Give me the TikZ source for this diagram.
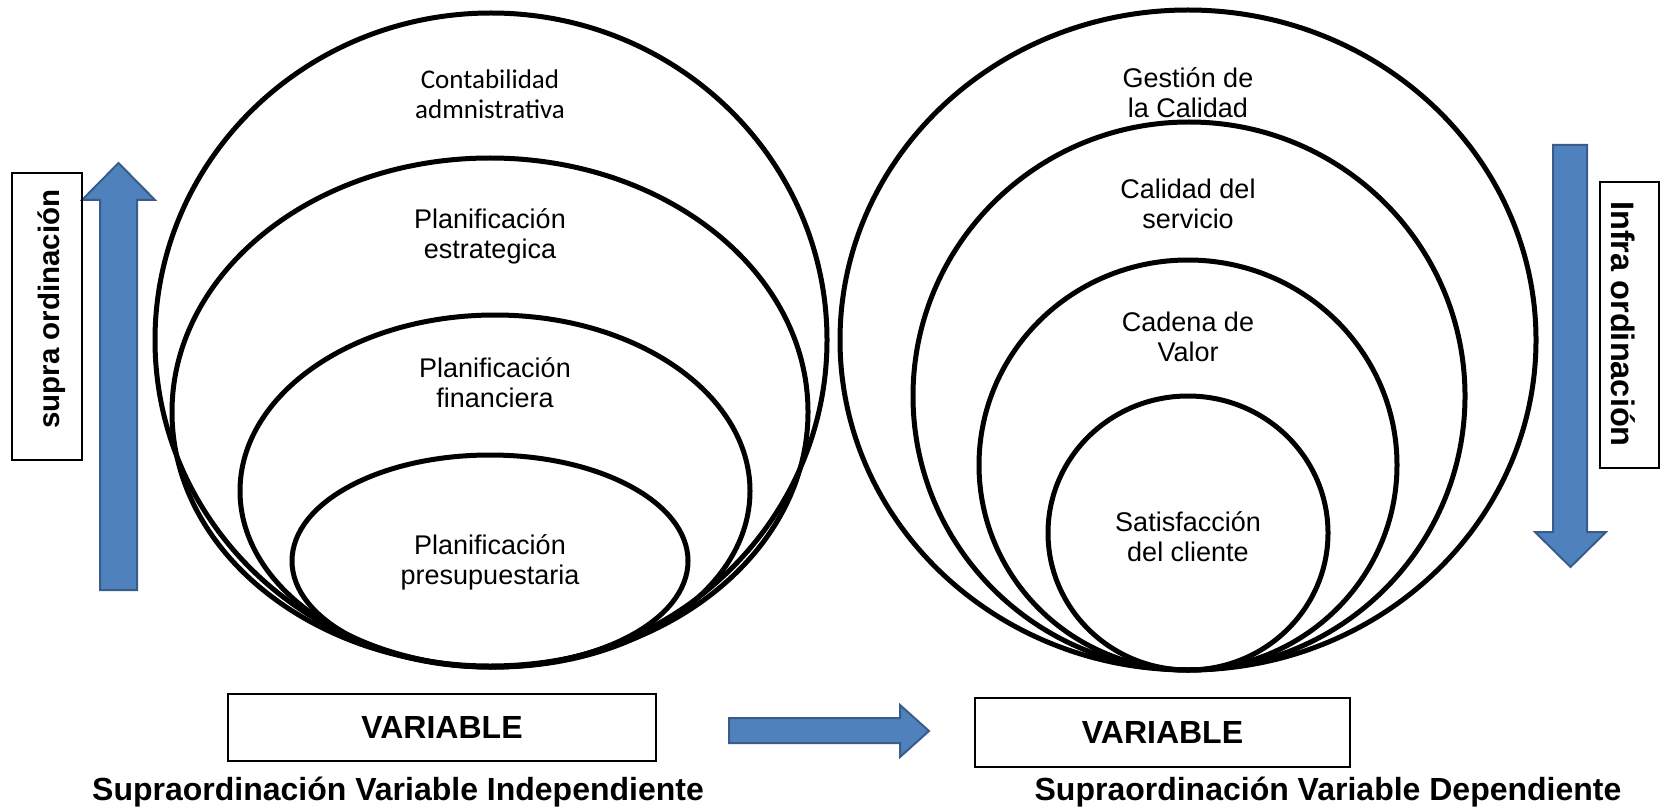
\documentclass[tikz,border=0pt]{standalone}
\usepackage{fontspec}
\setmainfont{Liberation Sans}
\newfontfamily\calibrifont{Carlito}
\usepackage{tikz}

\definecolor{azul}{HTML}{4F81BD}
\definecolor{azulborde}{HTML}{385D8A}

\begin{document}
\begin{tikzpicture}[x=1pt, y=-1pt,
    anillo/.style={line width=5pt},
    etiqueta/.style={align=center, font=\fontsize{27}{30}\selectfont},
    caja/.style={draw, line width=2pt},
    bloque/.style={fill=azul, draw=azulborde, line width=2pt},
    negrita/.style={font=\fontsize{32}{36}\selectfont\bfseries}]

    \useasboundingbox (0, 0) rectangle (1661, 810);

    % supraordinacion (variable independiente)
    \draw [anillo] (491, 340) ellipse [x radius=336, y radius=327];
    \draw [anillo] (490, 412) ellipse [x radius=318, y radius=254];
    \draw [anillo] (495, 491) ellipse [x radius=255, y radius=176];
    \draw [anillo] (490, 561) ellipse [x radius=198, y radius=106];

    \node [etiqueta, font=\calibrifont\fontsize{27}{30}\selectfont] (contab)
    at (490, 94) {Contabilidad\\admnistrativa};

    \node [etiqueta] (estrat) at (490, 236) {Planificación\\estrategica};

    \node [etiqueta] (financ) at (495, 383) {Planificación\\financiera};

    \node [etiqueta] (presup) at (490, 562) {Planificación\\presupuestaria};

    % supraordinacion (variable dependiente)
    \draw [anillo] (1188, 340) ellipse [x radius=348, y radius=330];
    \draw [anillo] (1189, 396) ellipse [x radius=276, y radius=274];
    \draw [anillo] (1188, 465) ellipse [x radius=209, y radius=205];
    \draw [anillo] (1188, 533) ellipse [x radius=140, y radius=137];

    \node [etiqueta] (gestion) at (1188, 93) {Gestión de\\la Calidad};

    \node [etiqueta] (servicio) at (1188, 204) {Calidad del\\servicio};

    \node [etiqueta] (cadena) at (1188, 337) {Cadena de\\Valor};

    \node [etiqueta] (satisf) at (1188, 537) {Satisfacción\\del cliente};

    % flechas
    \draw [bloque] (100, 590) -- (100, 200) -- (82, 200) -- (118.5, 163)
    -- (155, 200) -- (137, 200) -- (137, 590) -- cycle;

    \draw [bloque] (1553, 145) -- (1553, 532) -- (1535, 532) -- (1570.5, 567)
    -- (1606, 532) -- (1587, 532) -- (1587, 145) -- cycle;

    \draw [bloque] (729, 718) -- (900, 718) -- (900, 705) -- (929, 731)
    -- (900, 757) -- (900, 743) -- (729, 743) -- cycle;

    % cajas laterales
    \node [caja, minimum width=70pt, minimum height=287pt] (cajasupra)
    at (47, 316.5) {};

    \node [rotate=90, font=\fontsize{29.5}{33}\selectfont\bfseries] (supra)
    at (52, 309) {supra ordinación};

    \node [caja, minimum width=59pt, minimum height=286pt] (cajainfra)
    at (1629.5, 325) {};

    \node [rotate=-90, font=\fontsize{32.5}{36}\selectfont\bfseries] (infra)
    at (1623, 324) {Infra ordinación};

    % variables
    \node [caja, negrita, minimum width=428pt, minimum height=67pt]
    (varind) at (442, 727.5) {VARIABLE};

    \node [caja, negrita, minimum width=375pt, minimum height=69pt]
    (vardep) at (1162.5, 732.5) {VARIABLE};

    \node [negrita] (titind) at (398, 792) {Supraordinación Variable Independiente};

    \node [negrita] (titdep) at (1328, 792) {Supraordinación Variable Dependiente};

\end{tikzpicture}
\end{document}
